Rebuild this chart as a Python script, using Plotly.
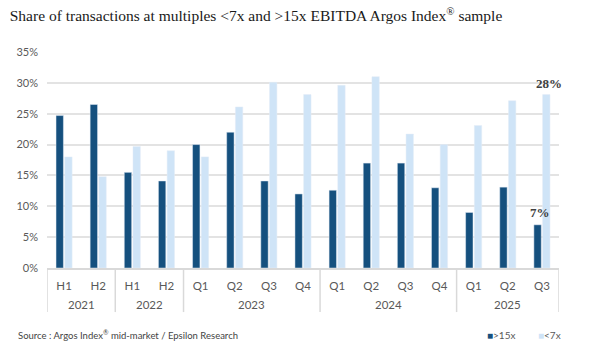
import plotly.graph_objects as go

years = ["2021", "2022", "2023", "2024", "2025"]
periods_per_year = [2, 2, 4, 4, 3]
periods = ["H1", "H2", "H1", "H2", "Q1", "Q2", "Q3", "Q4",
           "Q1", "Q2", "Q3", "Q4", "Q1", "Q2", "Q3"]
above15 = [24.7, 26.5, 15.5, 14.1, 20.0, 22.0, 14.1, 12.0,
           12.6, 17.0, 17.0, 13.0, 9.0, 13.1, 7.0]
below7 = [18.0, 14.8, 19.7, 19.0, 18.0, 26.1, 30.1, 28.1,
          29.6, 31.0, 21.7, 20.0, 23.1, 27.1, 28.1]
ytick_vals = [0, 5, 10, 15, 20, 25, 30, 35]
ytick_text = [f"{v}%" for v in ytick_vals]

DARK = "#15507e"
LIGHT = "#cfe4f7"
GRAY = "#595959"
DIV = "#d9d9d9"

xs = list(range(len(periods)))

fig = go.Figure()
fig.add_trace(go.Bar(x=xs, y=above15, name=">15x",
                     marker=dict(color=DARK), showlegend=False))
fig.add_trace(go.Bar(x=xs, y=below7, name="<7x",
                     marker=dict(color=LIGHT), showlegend=False))

# value labels on last period
last = xs[-1]
fig.add_annotation(xref="x", yref="y", x=last + 0.22, y=below7[-1], text="<b>28%</b>",
                   showarrow=False, yanchor="bottom", yshift=2,
                   font=dict(family="Liberation Serif", size=13, color="#404040"))
fig.add_annotation(xref="x", yref="y", x=last - 0.05, y=above15[-1], text="<b>7%</b>",
                   showarrow=False, yanchor="bottom", yshift=3,
                   font=dict(family="Liberation Serif", size=13, color="#404040"))

# year group labels and dividers
start = 0
bounds = [-0.5]
for yr, n in zip(years, periods_per_year):
    mid = start + (n - 1) / 2
    fig.add_annotation(xref="x", yref="paper", x=mid, y=-0.171, text=yr,
                       showarrow=False, yanchor="middle",
                       font=dict(family="Lato", size=11.5, color=GRAY))
    start += n
    bounds.append(start - 0.5)
for b in bounds:
    fig.add_shape(type="line", xref="x", yref="paper", x0=b, x1=b, y0=0, y1=-0.204,
                  line=dict(color=DIV, width=1.5))

fig.update_layout(
    width=610, height=351,
    margin=dict(l=47, r=51, t=52, b=83),
    paper_bgcolor="white", plot_bgcolor="white",
    barmode="group", bargap=0.49, bargroupgap=0.15,
    title=dict(text="Share of transactions at multiples &lt;7x and &gt;15x EBITDA Argos Index<sup>®</sup> sample",
               x=0.016, xanchor="left", y=0.955, yanchor="middle",
               font=dict(family="Liberation Serif", size=15.5, color="#1a1a1a")),
    font=dict(family="Lato", color=GRAY, size=11),
    xaxis=dict(range=[-0.5, len(periods) - 0.5], tickvals=xs, ticktext=periods,
               showgrid=False, showline=True, linecolor=DIV, linewidth=1.5,
               ticks="", ticklabelstandoff=6,
               tickfont=dict(family="Lato", size=11.5, color=GRAY)),
    yaxis=dict(range=[0, 35], tickvals=ytick_vals, ticktext=ytick_text,
               showgrid=True, gridcolor="#e3e3e3", gridwidth=1.5,
               zeroline=False, ticklabelstandoff=8,
               tickfont=dict(family="Lato", size=11, color=GRAY)),
    showlegend=False,
)

fig.add_annotation(xref="paper", yref="paper", x=-0.06, y=-0.31, xanchor="left",
                   yanchor="middle", showarrow=False,
                   text="Source : Argos Index<sup>®</sup> mid-market / Epsilon Research",
                   font=dict(family="Lato", size=9.5, color="#444444"))
fig.add_annotation(xref="paper", yref="paper", x=0.855, y=-0.31, xanchor="left",
                   yanchor="middle", showarrow=False,
                   text=f"<span style='color:{DARK}'>■</span>&gt;15x",
                   font=dict(family="Lato", size=10, color=GRAY))
fig.add_annotation(xref="paper", yref="paper", x=0.955, y=-0.31, xanchor="left",
                   yanchor="middle", showarrow=False,
                   text=f"<span style='color:{LIGHT}'>■</span>&lt;7x",
                   font=dict(family="Lato", size=10, color=GRAY))

fig.write_html("out.html")
